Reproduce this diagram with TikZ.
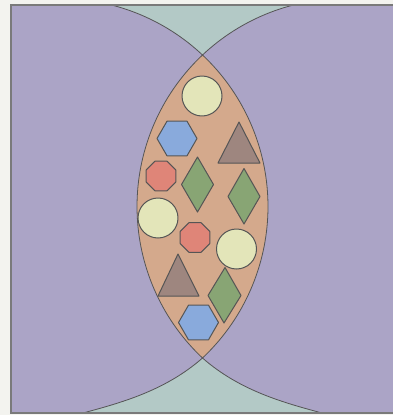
\documentclass[tikz,border=0pt]{standalone}
\usetikzlibrary{shapes.geometric}
\definecolor{bgc}{HTML}{F3F3EF}
\definecolor{teal1}{HTML}{B3C9C6}
\definecolor{purp}{HTML}{ABA4C6}
\definecolor{lens}{HTML}{D4A98C}
\definecolor{yel}{HTML}{E3E5B9}
\definecolor{blu}{HTML}{89AADC}
\definecolor{redd}{HTML}{DF8578}
\definecolor{grn}{HTML}{88A574}
\definecolor{brn}{HTML}{9E867F}
\definecolor{edge}{HTML}{555555}
\definecolor{frame}{HTML}{7A7A7A}
\begin{document}
\begin{tikzpicture}[x=1pt,y=-1pt,
  shp/.style={draw=edge,line width=1pt,line join=round},
  arcline/.style={draw=edge,line width=0.8pt}]
\useasboundingbox (0,0) rectangle (393,415);
\fill[bgc] (0,0) rectangle (393,415);
\begin{scope}
  \clip (10.5,5) rectangle (393,413);
  \fill[teal1] (10,5) rectangle (393,413);
  % left purple region
  \fill[purp] (10,5) -- (113,5)
    -- plot[domain=-75.26:46.75,samples=90,variable=\t] ({60+208*cos(\t)},{206.5+208*sin(\t)})
    .. controls (165,391) and (120,403) .. (83,413) -- (60,420) -- (10,420) -- cycle;
  % right purple region
  \fill[purp] (393,5) -- (296.6,5)
    -- plot[domain=255.64:133.25,samples=90,variable=\t] ({345+208*cos(\t)},{206.5+208*sin(\t)})
    .. controls (240,391) and (285,403) .. (322,413) -- (345,420) -- (393,420) -- cycle;
  % lens
  \fill[lens] plot[domain=-46.75:46.75,samples=70,variable=\t] ({60+208*cos(\t)},{206.5+208*sin(\t)})
    -- plot[domain=133.25:226.75,samples=70,variable=\t] ({345+208*cos(\t)},{206.5+208*sin(\t)}) -- cycle;
  % outlines
  \draw[arcline] plot[domain=-75.26:46.75,samples=90,variable=\t] ({60+208*cos(\t)},{206.5+208*sin(\t)})
    .. controls (165,391) and (120,403) .. (83,413) -- (60,420);
  \draw[arcline] plot[domain=255.64:133.25,samples=90,variable=\t] ({345+208*cos(\t)},{206.5+208*sin(\t)})
    .. controls (240,391) and (285,403) .. (322,413) -- (345,420);
\end{scope}
\draw[frame,line width=1.3pt] (394,5) -- (11,5) -- (11,413) -- (394,413);
% circles
\node[shp,fill=yel,circle,minimum size=40pt,inner sep=0pt] (c1) at (202,96) {};
\node[shp,fill=yel,circle,minimum size=40pt,inner sep=0pt] (c2) at (158,218) {};
\node[shp,fill=yel,circle,minimum size=40pt,inner sep=0pt] (c3) at (236.5,249) {};
% hexagons
\draw[shp,fill=blu,shift={(177,138.5)}] (0:20pt) \foreach \a in {60,120,...,300} {-- (\a:20pt)} -- cycle;
\draw[shp,fill=blu,shift={(198.5,322.5)}] (0:20pt) \foreach \a in {60,120,...,300} {-- (\a:20pt)} -- cycle;
% octagons
\draw[shp,fill=redd,shift={(161,176)}] (22.5:16pt) \foreach \a in {67.5,112.5,...,337.5} {-- (\a:16pt)} -- cycle;
\draw[shp,fill=redd,shift={(195,237.5)}] (22.5:16pt) \foreach \a in {67.5,112.5,...,337.5} {-- (\a:16pt)} -- cycle;
% triangles
\draw[shp,fill=brn] (239,122) -- (260,163) -- (218,163) -- cycle;
\draw[shp,fill=brn] (178,254) -- (199,296) -- (158,296) -- cycle;
% diamonds
\draw[shp,fill=grn] (197.5,157) -- (213.5,184.5) -- (197.5,212) -- (181.5,184.5) -- cycle;
\draw[shp,fill=grn] (244,168.5) -- (260,196.5) -- (244,224) -- (228,196.5) -- cycle;
\draw[shp,fill=grn] (225,267.5) -- (241,295.5) -- (224,323) -- (208,295.5) -- cycle;
\end{tikzpicture}
\end{document}
